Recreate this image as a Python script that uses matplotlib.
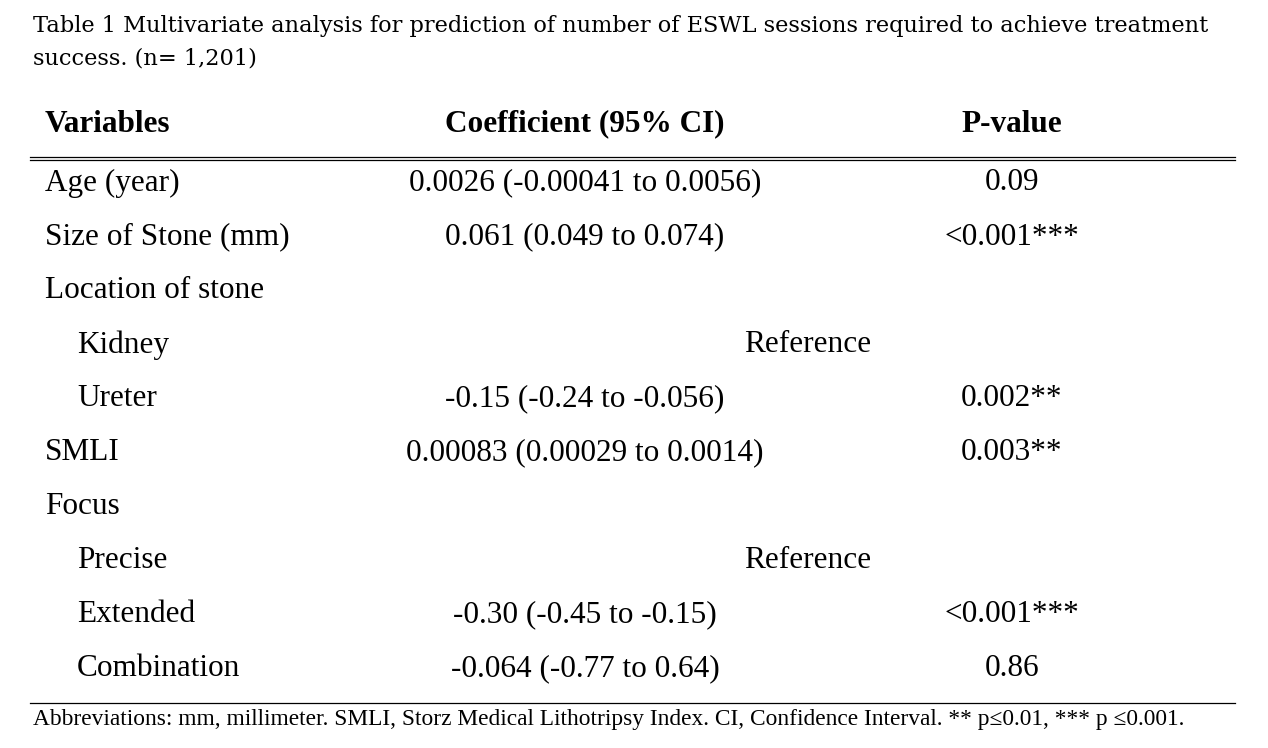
import matplotlib.pyplot as plt
from matplotlib.lines import Line2D

W, H = 1268, 748

title_lines = [
    "Table 1 Multivariate analysis for prediction of number of ESWL sessions required to achieve treatment",
    "success. (n= 1,201)",
]
headers = ["Variables", "Coefficient (95% CI)", "P-value"]
variables = ["Age (year)", "Size of Stone (mm)", "Location of stone", "Kidney", "Ureter",
             "SMLI", "Focus", "Precise", "Extended", "Combination"]
indented = [False, False, False, True, True, False, False, True, True, True]
coefficients = ["0.0026 (-0.00041 to 0.0056)", "0.061 (0.049 to 0.074)", "", "", "-0.15 (-0.24 to -0.056)",
                "0.00083 (0.00029 to 0.0014)", "", "", "-0.30 (-0.45 to -0.15)", "-0.064 (-0.77 to 0.64)"]
pvalues = ["0.09", "<0.001***", "", "", "0.002**", "0.003**", "", "", "<0.001***", "0.86"]
reference_rows = [3, 7]
footnote = ("Abbreviations: mm, millimeter. SMLI, Storz Medical Lithotripsy Index. CI, "
            "Confidence Interval. ** p\u22640.01, *** p \u22640.001.")

fig = plt.figure(figsize=(W / 100, H / 100), dpi=100)
fig.patch.set_facecolor("white")


def px(x, y):
    return x / W, 1 - y / H


serif = ["Liberation Serif", "DejaVu Serif"]
BODY = 22.5
for i, line in enumerate(title_lines):
    fig.text(*px(33, 26 + 32 * i), line, family="DejaVu Serif", fontsize=16.2, va="center", ha="left")

hy = 124
fig.text(*px(45, hy), headers[0], family=serif, fontsize=BODY, weight="bold", va="center")
fig.text(*px(585, hy), headers[1], family=serif, fontsize=BODY, weight="bold", va="center", ha="center")
fig.text(*px(1012, hy), headers[2], family=serif, fontsize=BODY, weight="bold", va="center", ha="center")

for yy in (157, 160):
    fig.add_artist(Line2D([30 / W, 1235 / W], [1 - yy / H] * 2, color="black", lw=0.9))
fig.add_artist(Line2D([30 / W, 1235 / W], [1 - 703 / H] * 2, color="black", lw=0.9))

for i, name in enumerate(variables):
    y = 183 + 54 * i
    fig.text(*px(77 if indented[i] else 45, y), name, family=serif, fontsize=BODY, va="center")
    if coefficients[i]:
        fig.text(*px(585, y), coefficients[i], family=serif, fontsize=BODY, va="center", ha="center")
    if pvalues[i]:
        fig.text(*px(1012, y), pvalues[i], family=serif, fontsize=BODY, va="center", ha="center")
    if i in reference_rows:
        fig.text(*px(808, y), "Reference", family=serif, fontsize=BODY, va="center", ha="center")

fig.text(*px(33, 719), footnote, family=serif, fontsize=16.8, va="center")

fig.savefig("out.png", dpi=100, facecolor="white")
